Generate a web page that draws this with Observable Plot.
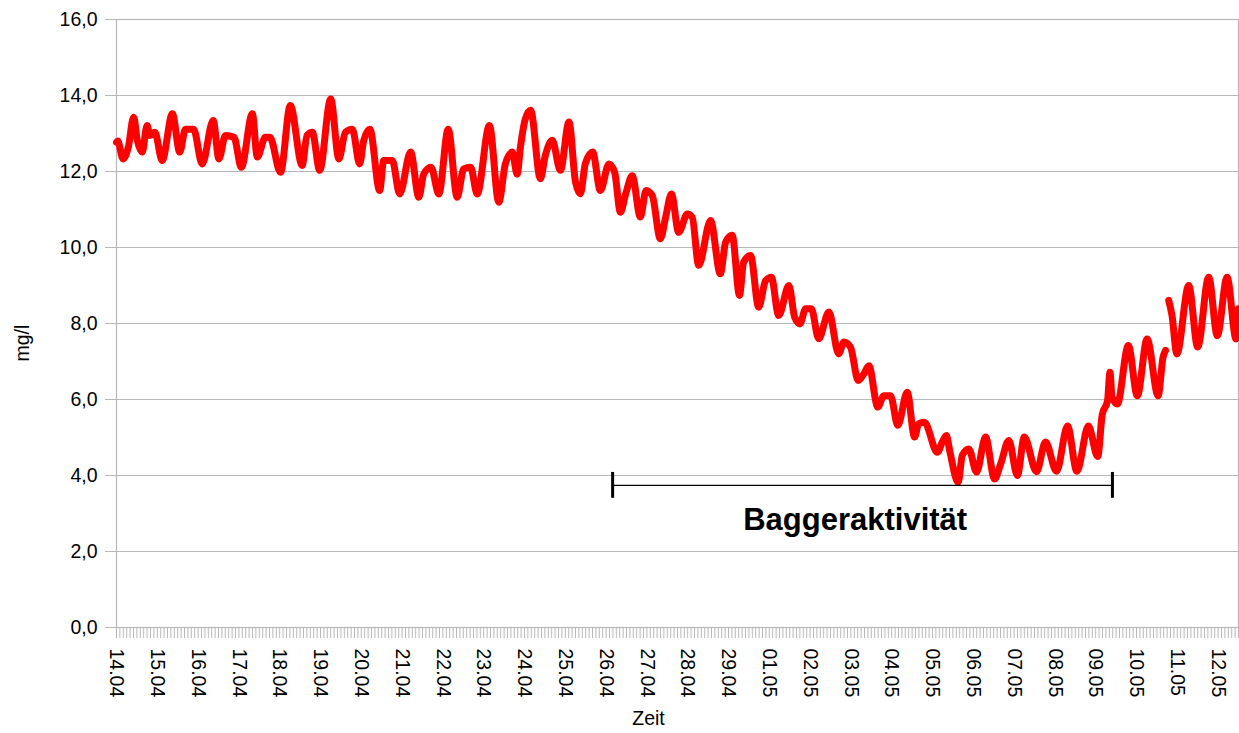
<!DOCTYPE html>
<html>
<head>
<meta charset="utf-8">
<script src="https://cdn.jsdelivr.net/npm/d3@7"></script>
<script src="https://cdn.jsdelivr.net/npm/@observablehq/plot@0.6"></script>
<style>
  html, body { margin: 0; padding: 0; background: #fff; }
  #chart { width: 1239px; height: 733px; }
</style>
</head>
<body>
<div id="chart"></div>
<script>
// Category-axis day labels (30.04 absent in the record)
const dayLabels = ["14.04","15.04","16.04","17.04","18.04","19.04","20.04","21.04","22.04","23.04",
  "24.04","25.04","26.04","27.04","28.04","29.04","01.05","02.05","03.05","04.05","05.05",
  "06.05","07.05","08.05","09.05","10.05","11.05","12.05"];

// Position along the time axis, in days from 14.04 00:00
const dayOffset = [
  0.00,0.03,0.16,0.29,0.42,0.51,0.63,0.75,0.82,0.94,1.12,1.37,1.55,1.69,1.89,2.10,2.37,2.51,2.67,2.88,
  3.06,3.33,3.45,3.65,3.76,4.02,4.26,4.55,4.67,4.80,4.98,5.25,5.45,5.61,5.78,5.96,6.06,6.21,6.45,6.55,
  6.76,6.94,7.21,7.41,7.53,7.71,7.90,8.13,8.35,8.51,8.68,8.84,9.14,9.37,9.53,9.70,9.82,9.90,10.02,10.15,
  10.39,10.51,10.68,10.88,11.09,11.25,11.37,11.49,11.67,11.86,12.07,12.21,12.35,12.48,12.64,12.84,12.98,13.13,13.33,13.46,
  13.60,13.78,13.99,14.11,14.27,14.56,14.80,14.93,15.09,15.27,15.37,15.54,15.74,15.91,16.05,16.23,16.48,16.62,16.75,16.89,
  17.03,17.21,17.46,17.70,17.83,17.99,18.18,18.32,18.44,18.66,18.81,18.97,19.15,19.38,19.56,19.66,19.80,20.12,20.24,20.34,
  20.42,20.63,20.73,20.89,21.08,21.30,21.52,21.67,21.87,22.08,22.25,22.55,22.77,23.04,23.31,23.54,23.82,24.05,24.16,24.29,
  24.35,24.40,24.53,24.80,25.02,25.26,25.53,25.65,25.71,25.75,25.79,25.87,25.99,26.28,26.50,26.77,26.98,27.22,27.44,27.50
];

// Oxygen concentration, mg/l (null = missing measurement)
const oxygen = [
  12.77,12.80,12.33,12.64,13.43,12.82,12.51,13.21,12.95,13.03,12.29,13.52,12.51,13.11,13.11,12.20,13.34,12.33,12.95,12.90,
  12.11,13.52,12.38,12.90,12.90,11.98,13.74,12.16,12.95,13.03,12.03,13.91,12.33,13.03,13.11,12.20,12.82,13.11,11.50,12.29,
  12.29,11.41,12.51,11.32,11.93,12.11,11.41,13.11,11.32,12.07,12.11,11.41,13.21,11.19,12.20,12.51,11.93,12.64,13.38,13.61,
  11.81,12.42,12.82,12.03,13.30,11.72,11.41,12.20,12.51,11.50,12.20,11.98,10.93,11.41,11.89,10.80,11.50,11.37,10.23,10.80,
  11.41,10.40,10.88,10.80,9.53,10.71,9.31,10.14,10.32,8.74,9.61,9.79,8.43,9.13,9.22,8.21,9.00,8.17,7.99,8.39,
  8.39,7.60,8.30,7.20,7.51,7.38,6.50,6.68,6.89,5.80,6.10,6.10,5.32,6.19,5.01,5.36,5.40,4.61,4.88,5.05,
  4.66,3.82,4.53,4.70,4.09,5.01,3.91,4.30,4.92,4.00,5.01,4.10,4.88,4.11,5.30,4.11,5.30,4.50,5.60,5.97,
  6.72,6.06,5.88,7.42,6.10,7.59,6.10,7.11,7.29,null,8.61,8.21,7.20,9.00,7.38,9.22,7.68,9.22,7.59,8.39
];

const yTicks = [0, 2, 4, 6, 8, 10, 12, 14, 16];

// Dredging period annotation
const dredgeStart = 12.16, dredgeEnd = 24.41, dredgeLevel = 3.74;
const dredgeLabel = "Baggeraktivität";

const data = dayOffset.map((t, i) => ({t, v: oxygen[i]}));
const majorTicks = dayLabels.map((_, i) => i);
const minorTicks = d3.range(0, 27.5 + 1e-9, 1 / 12);
const gridColor = "#b8b8b8";
const fs = 19.5;

const chart = Plot.plot({
  width: 1239,
  height: 733,
  marginLeft: 116,
  marginRight: 1,
  marginTop: 19,
  marginBottom: 106,
  style: {fontFamily: "'Liberation Sans', Arial, sans-serif", background: "#fff", color: "#000"},
  x: {domain: [0, 27.5]},
  y: {domain: [0, 16]},
  marks: [
    Plot.gridY(yTicks, {stroke: gridColor, strokeOpacity: 1, strokeWidth: 1.2}),
    Plot.frame({stroke: gridColor, strokeWidth: 1.2}),
    Plot.axisY(yTicks, {
      tickFormat: d => d.toFixed(1).replace(".", ","),
      tickSize: 11, tickPadding: 8, fontSize: fs,
      stroke: gridColor, fill: "#000", label: null
    }),
    Plot.axisX(minorTicks, {tickSize: 11, text: null, stroke: gridColor, strokeWidth: 1, label: null}),
    Plot.axisX(majorTicks, {
      tickFormat: i => dayLabels[i], tickRotate: 90,
      tickSize: 0, tickPadding: 21, fontSize: fs, fill: "#000", label: null
    }),
    Plot.text(["mg/l"], {frameAnchor: "left", dx: -94, dy: 38, rotate: -90, fontSize: fs, fill: "#000"}),
    Plot.text(["Zeit"], {frameAnchor: "bottom", dx: -29, dy: 97, fontSize: fs, fill: "#000"}),
    Plot.line(data, {
      x: "t", y: "v", stroke: "#ff0000", strokeWidth: 7,
      curve: "monotone-x", strokeLinejoin: "round", strokeLinecap: "round"
    }),
    Plot.ruleY([dredgeLevel], {x1: dredgeStart, x2: dredgeEnd, stroke: "#000", strokeWidth: 1.3}),
    Plot.ruleX([dredgeStart, dredgeEnd], {y1: dredgeLevel - 0.34, y2: dredgeLevel + 0.34, stroke: "#000", strokeWidth: 3}),
    Plot.text([dredgeLabel], {
      x: (dredgeStart + dredgeEnd) / 2 - 0.18, y: 2.84, text: d => d,
      fontSize: 31, fontWeight: "bold", fill: "#000"
    })
  ]
});

document.getElementById("chart").appendChild(chart);
</script>
</body>
</html>
